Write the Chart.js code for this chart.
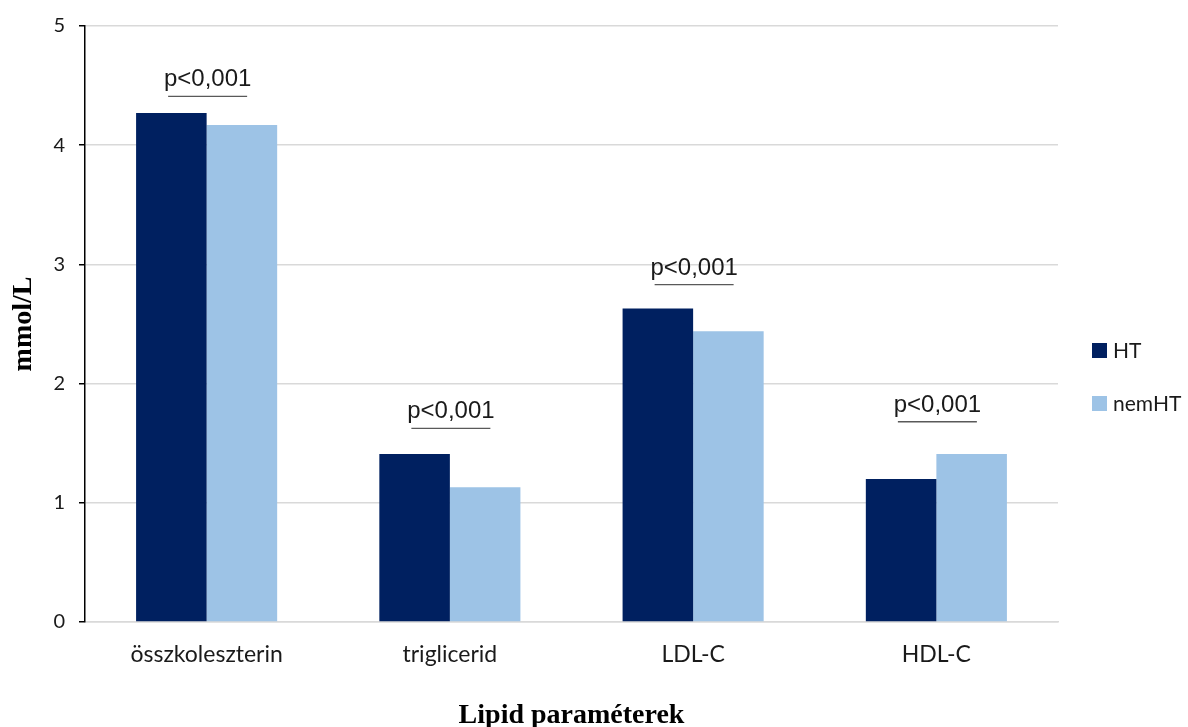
<!DOCTYPE html>
<html>
<head>
<meta charset="utf-8">
<script src="https://cdn.jsdelivr.net/npm/chart.js@4.4.1/dist/chart.umd.min.js"></script>
<style>
  html, body { margin: 0; padding: 0; background: #fff; }
  #wrap { width: 1188px; height: 727px; }
</style>
</head>
<body>
<div id="wrap"><canvas id="c" width="1188" height="727"></canvas></div>
<script>
// Lipid parameters by group (mmol/L)
const categories = ['összkoleszterin', 'triglicerid', 'LDL-C', 'HDL-C'];
const seriesNames = ['HT', 'nemHT'];
const htValues = [4.27, 1.41, 2.63, 1.20];
const nemHtValues = [4.17, 1.13, 2.44, 1.41];
const yTicks = [0, 1, 2, 3, 4, 5];

// Significance labels and the level (mmol/L) of their underline
const pLabels = ['p<0,001', 'p<0,001', 'p<0,001', 'p<0,001'];
const pLevels = [4.41, 1.625, 2.83, 1.68];

const colors = ['#002060', '#9DC3E6'];
const sansFont = 'Lato, "Open Sans", sans-serif';
const serifFont = '"Liberation Serif", "DejaVu Serif", serif';

// p-value brackets above each category
const pValuePlugin = {
  id: 'pValues',
  afterDatasetsDraw(chart) {
    const { ctx, scales: { x, y } } = chart;
    ctx.save();
    pLabels.forEach((label, i) => {
      const cx = x.getPixelForValue(i) + 1;
      const ly = y.getPixelForValue(pLevels[i]);
      ctx.strokeStyle = '#595959';
      ctx.lineWidth = 1.3;
      ctx.beginPath();
      ctx.moveTo(cx - 39.5, ly);
      ctx.lineTo(cx + 39.5, ly);
      ctx.stroke();
      ctx.fillStyle = '#1a1a1a';
      ctx.font = '24px "Liberation Sans", Arial, sans-serif';
      ctx.textAlign = 'center';
      ctx.textBaseline = 'alphabetic';
      ctx.fillText(label, cx, ly - 10);
    });
    ctx.restore();
  }
};

// Legend on the right, stacked vertically
const legendPlugin = {
  id: 'sideLegend',
  afterDraw(chart) {
    const { ctx } = chart;
    ctx.save();
    chart.data.datasets.forEach((ds, i) => {
      const bx = 1092, by = 343 + i * 53;
      ctx.fillStyle = ds.backgroundColor;
      ctx.fillRect(bx, by, 15, 15);
      ctx.fillStyle = '#1a1a1a';
      ctx.font = '21px ' + sansFont;
      ctx.textAlign = 'left';
      ctx.textBaseline = 'middle';
      ctx.fillText(ds.label, bx + 21, by + 8);
    });
    ctx.restore();
  }
};

new Chart(document.getElementById('c'), {
  type: 'bar',
  data: {
    labels: categories,
    datasets: [
      { label: seriesNames[0], data: htValues, backgroundColor: colors[0] },
      { label: seriesNames[1], data: nemHtValues, backgroundColor: colors[1] }
    ]
  },
  options: {
    responsive: false,
    animation: false,
    devicePixelRatio: 1,
    layout: { padding: { left: 0, right: 130, top: 25, bottom: 0 } },
    datasets: { bar: { categoryPercentage: 0.58, barPercentage: 1.0 } },
    plugins: {
      legend: { display: false },
      tooltip: { enabled: false }
    },
    scales: {
      x: {
        grid: { display: false, drawTicks: false },
        border: { display: true, color: '#d9d9d9', width: 1.5 },
        ticks: { color: '#1a1a1a', font: { family: sansFont, size: 23 }, padding: 19 },
        title: {
          display: true, text: 'Lipid paraméterek', color: '#000',
          font: { family: serifFont, size: 28, weight: 'bold', lineHeight: 0.8 },
          padding: { top: 0, bottom: 0 }
        },
        afterFit(scale) { scale.height = 105; }
      },
      y: {
        min: 0, max: 5,
        afterBuildTicks(scale) { scale.ticks = yTicks.map(v => ({ value: v })); },
        grid: { color: '#d9d9d9', lineWidth: 1.5, tickColor: '#000', tickLength: 6 },
        border: { display: true, color: '#000', width: 1.5 },
        ticks: { color: '#1a1a1a', font: { family: sansFont, size: 20 }, padding: 14 },
        title: {
          display: true, text: 'mmol/L', color: '#000',
          font: { family: serifFont, size: 28, weight: 'bold', lineHeight: 1 },
          padding: { top: 10, bottom: 0 }
        },
        afterFit(scale) { scale.width = 85; }
      }
    }
  },
  plugins: [pValuePlugin, legendPlugin]
});
</script>
</body>
</html>
